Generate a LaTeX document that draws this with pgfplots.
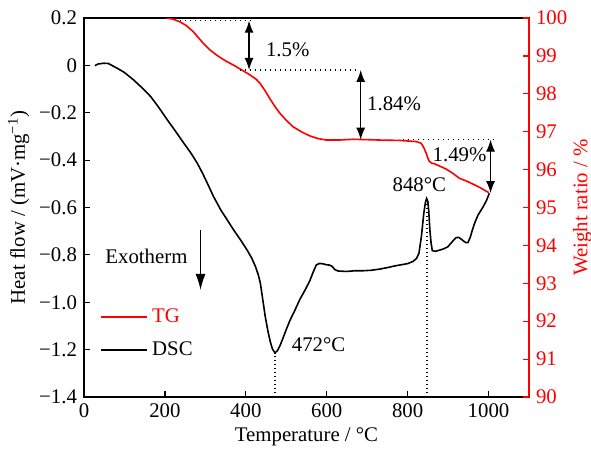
\documentclass[border=0pt]{standalone}
\usepackage{fontspec}
\setmainfont{Liberation Serif}
\usepackage{pgfplots}
\pgfplotsset{compat=1.18}
\usetikzlibrary{arrows.meta}

\pgfplotstableread{
T y
27 -0.001
35 0.006
49 0.009
60 0.008
82 -0.012
100 -0.03
123 -0.062
145 -0.097
165 -0.132
185 -0.178
206 -0.23
227 -0.28
247 -0.329
265 -0.372
280 -0.413
293 -0.455
305 -0.498
320 -0.553
338 -0.61
355 -0.655
370 -0.695
387 -0.737
403 -0.779
415 -0.815
424 -0.85
431 -0.885
436 -0.92
442 -0.99
448 -1.06
455 -1.125
461 -1.17
466 -1.198
472 -1.213
478 -1.205
484 -1.185
490 -1.16
500 -1.115
509 -1.077
521 -1.035
533 -0.99
546 -0.95
558 -0.91
566 -0.875
574 -0.843
582 -0.836
591 -0.838
600 -0.842
607 -0.843
613 -0.848
620 -0.862
628 -0.868
649 -0.870
670 -0.867
690 -0.867
710 -0.865
731 -0.860
755 -0.852
764 -0.848
780 -0.843
800 -0.837
813 -0.828
822 -0.815
828 -0.793
834 -0.723
840 -0.624
844 -0.578
847 -0.562
850 -0.575
852 -0.61
855 -0.695
858 -0.75
861 -0.782
868 -0.785
875 -0.782
890 -0.774
900 -0.765
914 -0.737
920 -0.727
926 -0.726
932 -0.733
937 -0.74
944 -0.748
949 -0.748
955 -0.725
960 -0.695
967 -0.66
974 -0.632
987 -0.596
995 -0.57
1002 -0.54
}\dsc

\pgfplotstableread{
T w
204 100.0
220 99.97
237 99.90
253 99.80
270 99.64
283 99.48
295 99.33
310 99.17
328 99.02
348 98.88
369 98.76
390 98.63
410 98.50
425 98.39
435 98.28
447 98.09
459 97.88
471 97.68
484 97.49
500 97.30
517 97.13
537 97.00
558 96.89
578 96.82
599 96.78
630 96.78
665 96.80
700 96.79
731 96.78
780 96.77
821 96.74
830 96.71
834 96.69
840 96.58
846 96.43
850 96.30
854 96.21
860 96.17
867 96.15
880 96.09
896 96.01
912 95.90
928 95.77
945 95.70
961 95.62
980 95.52
1001 95.39
}\tg

\pgfplotsset{/pgf/number format/assume math mode=true}

\begin{document}
\begin{tikzpicture}[font=\fontsize{10.4}{12.5}\selectfont]
\useasboundingbox (-42pt,-27.5pt) rectangle (253.5pt,198.5pt);
\begin{axis}[
  at={(0,0)}, anchor=south west,
  scale only axis, width=222.5pt, height=189.5pt,
  xmin=0, xmax=1100, ymin=-1.4, ymax=0.2,
  xtick={0,200,400,600,800,1000},
  xticklabels={0,200,400,600,800,1000},
  ytick={-1.4,-1.2,-1.0,-0.8,-0.6,-0.4,-0.2,0,0.2},
  yticklabels={−1.4,−1.2,−1.0,−0.8,−0.6,−0.4,−0.2,0,0.2},
  tick align=inside, xtick pos=bottom, ytick pos=left,
  major tick length=3pt,
  axis line style={line width=0.6pt},
  every tick/.style={black, line width=0.6pt},
  xlabel={Temperature / °C},
  ylabel={Heat flow / (mV·mg\textsuperscript{−1})},
  xlabel style={yshift=2pt},
  ylabel style={at={(axis description cs:-0.147,0.5)}, anchor=center},
]
\addplot[black, line width=0.8pt] table[x=T, y=y] {\dsc};
\draw[dash pattern=on 0.6pt off 1.4pt, line width=0.6pt] (axis cs:472,-1.4) -- (axis cs:472,-1.213);
\draw[dash pattern=on 0.6pt off 1.4pt, line width=0.6pt] (axis cs:848,-1.4) -- (axis cs:848,-0.565);
\node[anchor=west, inner sep=0pt] at (axis cs:513,-1.18) {472°C};
\node[anchor=west, inner sep=0pt] at (axis cs:762,-0.505) {848°C};
\node[anchor=west, inner sep=0pt] at (axis cs:52,-0.807) {Exotherm};
\draw[-{Latex[length=8pt,width=5pt]}, line width=0.6pt] (axis cs:288,-0.695) -- (axis cs:288,-0.948);
\end{axis}
\begin{axis}[
  at={(0,0)}, anchor=south west,
  scale only axis, width=222.5pt, height=189.5pt,
  xmin=0, xmax=1100, ymin=90, ymax=100,
  axis x line=none, axis y line*=right,
  ytick={90,91,92,93,94,95,96,97,98,99,100},
  yticklabels={90,91,92,93,94,95,96,97,98,99,100},
  tick align=inside,
  major tick length=3pt,
  y axis line style={red, line width=0.6pt, -},
  every tick/.style={red, line width=0.6pt},
  yticklabel style={red},
  ylabel={Weight ratio / \%},
  ylabel style={red, at={(axis description cs:1.12,0.5)}, anchor=center},
  legend style={draw=none, fill=none, anchor=west, at={(axis cs:40,91.68)}, row sep=4pt, inner sep=0pt},
  legend cell align=left,
  legend image code/.code={\draw[#1] (0pt,0pt) -- (23pt,0pt);},
]
\addplot[red, line width=0.8pt] table[x=T, y=w] {\tg};
\addlegendentry{\textcolor{red}{TG}}
\addlegendimage{black, line width=0.8pt}
\addlegendentry{DSC}
\draw[dash pattern=on 0.6pt off 1.9pt, line width=0.7pt] (axis cs:237,99.93) -- (axis cs:422,99.93);
\draw[dash pattern=on 0.6pt off 1.9pt, line width=0.7pt] (axis cs:385,98.63) -- (axis cs:677,98.63);
\draw[dash pattern=on 0.6pt off 1.9pt, line width=0.7pt] (axis cs:788,96.79) -- (axis cs:1019,96.79);
\draw[{Latex[length=6pt,width=4.5pt]}-{Latex[length=6pt,width=4.5pt]}, line width=0.6pt] (axis cs:408,99.93) -- (axis cs:408,98.63);
\draw[{Latex[length=6pt,width=4.5pt]}-{Latex[length=6pt,width=4.5pt]}, line width=0.6pt] (axis cs:684,98.63) -- (axis cs:684,96.79);
\draw[{Latex[length=6pt,width=4.5pt]}-{Latex[length=6pt,width=4.5pt]}, line width=0.6pt] (axis cs:1005,96.79) -- (axis cs:1005,95.38);
\node[anchor=west, inner sep=0pt] at (axis cs:449,99.16) {1.5\%};
\node[anchor=west, inner sep=0pt] at (axis cs:699,97.75) {1.84\%};
\node[anchor=west, inner sep=0pt] at (axis cs:861,96.38) {1.49\%};
\end{axis}
\end{tikzpicture}
\end{document}
